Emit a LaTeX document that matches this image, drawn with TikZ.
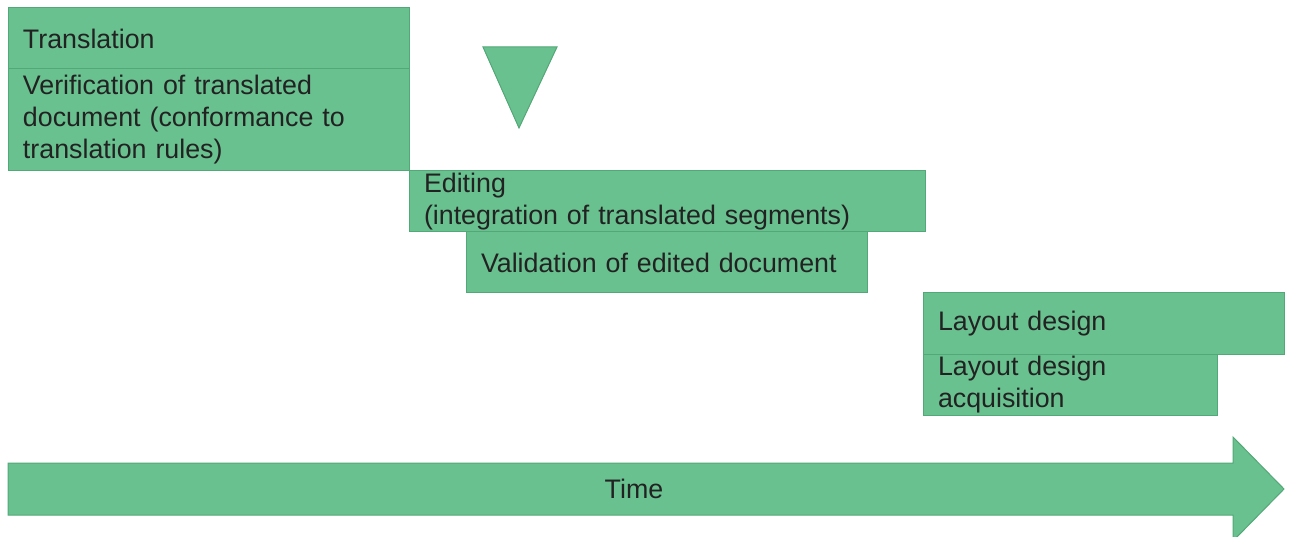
\documentclass[tikz,border=0pt]{standalone}
\usepackage{fontspec}
\setmainfont{Liberation Sans}
\usepackage{tikz}
\usetikzlibrary{positioning}
\definecolor{phasefill}{RGB}{105,193,143}
\definecolor{phaseline}{RGB}{82,168,118}
\definecolor{phasetext}{RGB}{34,34,34}

\tikzset{
  phase/.style={draw=phaseline, fill=phasefill, line width=1pt,
    anchor=north west, outer sep=0pt, inner xsep=15pt, inner ysep=0pt,
    align=left, text=phasetext,
    font=\fontsize{26.8}{32}\selectfont},
  marker/.style={draw=phaseline, fill=phasefill, line width=1pt},
}

\begin{document}
\begin{tikzpicture}[x=1pt,y=-1pt]
   \useasboundingbox (0,0) rectangle (1293,537);

   % translation stage
   \node[phase, text width=371pt, minimum height=61pt] (transl) at (8,8) {Translation};
   \node[phase, text width=371pt, minimum height=102pt] (verif) at (transl.south west)
      {Verification of translated\\document (conformance to\\translation rules)};

   % current position
   \draw[marker] (483,47) -- (557,47) -- (519,128) -- cycle;

   % editing stage
   \node[phase, text width=486pt, minimum height=61pt] (edit) at (verif.south east)
      {Editing\\(integration of translated segments)};
   \node[phase, text width=371pt, minimum height=61pt] (valid) at (466,232)
      {Validation of edited document};

   % layout stage
   \node[phase, text width=331pt, minimum height=61pt] (layout) at (923,293) {Layout design};
   \node[phase, text width=264pt, minimum height=61pt] (layacq) at (layout.south west)
      {Layout design\\acquisition};

   % time axis
   \draw[marker] (8,463) -- (1233,463) -- (1233,437) -- (1284,489)
      -- (1233,541) -- (1233,515) -- (8,515) -- cycle;
   \node[text=phasetext, font=\fontsize{26.8}{32}\selectfont] (time) at (634,489) {Time};
\end{tikzpicture}
\end{document}
